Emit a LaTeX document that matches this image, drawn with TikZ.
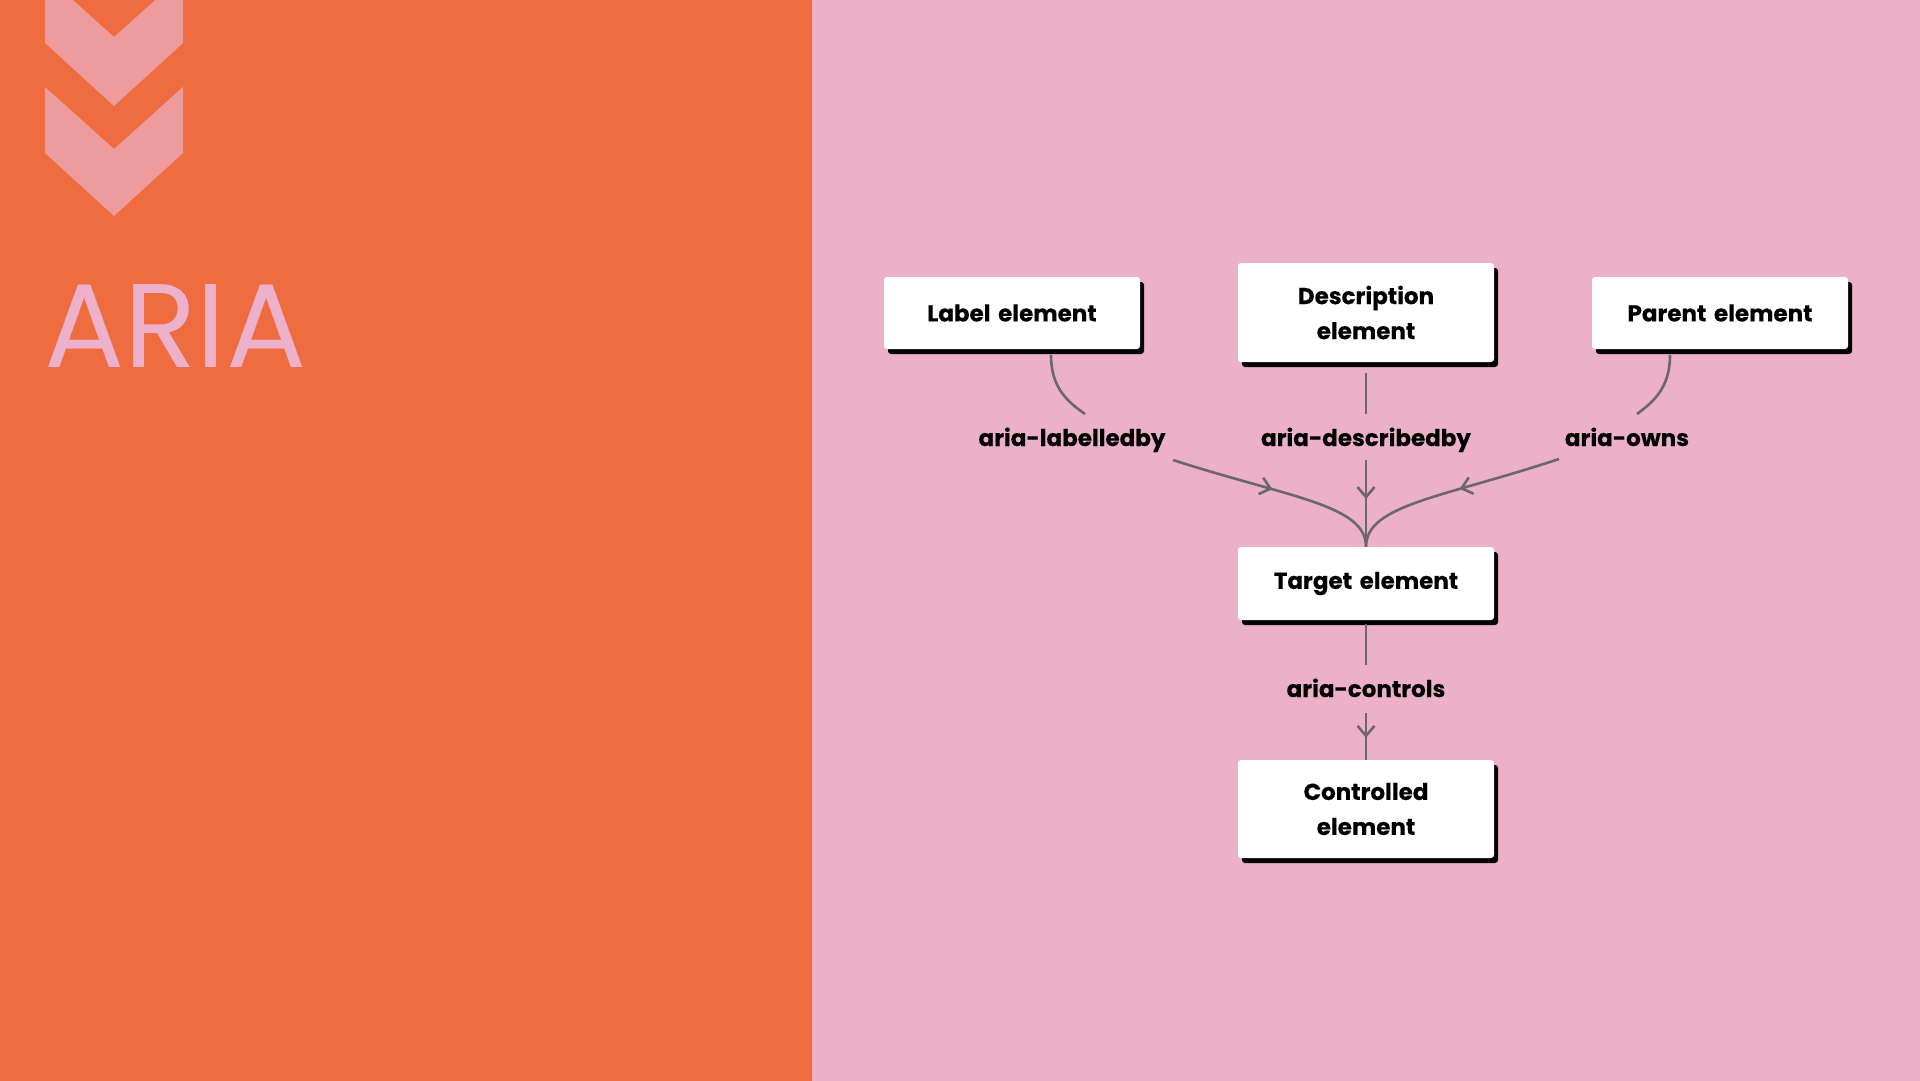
\documentclass[tikz,border=0pt]{standalone}
\usepackage{fontspec}
\setmainfont{Poppins}
\usetikzlibrary{arrows.meta,decorations.markings,calc,shadows}
\definecolor{orangebg}{HTML}{EE6C40}
\definecolor{pinkbg}{HTML}{ECB1C9}
\definecolor{chev}{HTML}{EE9B9E}
\definecolor{ariatxt}{HTML}{EDB1CB}
\definecolor{linegray}{HTML}{6B676B}
\newcommand{\boldtxt}{\bfseries\addfontfeature{FakeBold=0.3}}
\tikzset{
  box/.style={fill=white, rounded corners=3pt, minimum width=256pt, text width=236pt,
    align=center, inner sep=0pt, font=\fontsize{23}{35}\selectfont\boldtxt,
    drop shadow={shadow xshift=4pt, shadow yshift=-5pt, fill=black, opacity=1}},
  elabel/.style={font=\fontsize{23}{28}\selectfont\boldtxt, inner sep=0pt,
    text height=18pt, text depth=0pt},
  conn/.style={draw=linegray, line width=2.6pt},
  midarrow/.style={postaction={decorate}, decoration={markings,
    mark=at position #1 with {\arrow{Straight Barb[length=10pt,width=17pt]}}}},
}
\begin{document}
\begin{tikzpicture}[x=1pt,y=-1pt]
\useasboundingbox (0,0) rectangle (1920,1081);
\clip (0,0) rectangle (1920,1081);
\fill[orangebg] (0,0) rectangle (812,1081);
\fill[pinkbg] (812,0) rectangle (1920,1081);
% chevrons
\fill[chev] (45,-25) -- (45,43) -- (114,106) -- (183,43) -- (183,-25) -- (114,37) -- cycle;
\fill[chev] (45,87) -- (45,153) -- (114,216) -- (183,153) -- (183,87) -- (114,149) -- cycle;
% title
\node[anchor=base west, inner sep=0pt, text=ariatxt, font=\fontsize{119}{122}\selectfont] (title) at (44,367) {ARIA};
% boxes
\node[box, minimum height=72pt] (lab) at (1012,313) {Label element};
\node[box, minimum height=99pt] (desc) at (1366,312.5) {Description\\element};
\node[box, minimum height=72pt] (par) at (1720,313) {Parent element};
\node[box, minimum height=73pt] (tgt) at (1366,583.5) {Target element};
\node[box, minimum height=98pt] (ctl) at (1366,809) {Controlled\\element};
% edge labels
\node[elabel] (l1) at (1072,437) {aria-labelledby};
\node[elabel] (l2) at (1366,437) {aria-describedby};
\node[elabel] (l3) at (1627,437) {aria-owns};
\node[elabel] (l4) at (1366,688) {aria-controls};
% connectors
\draw[conn] ($(lab.south)+(39,6)$) .. controls ($(lab.south)+(39,39)$) and ($(l1.center)+(-4,-35)$) .. ($(l1.center)+(13,-23)$);
\draw[conn, midarrow=0.47] ($(l1.center)+(101,23)$) .. controls ($(tgt.north)+(-76,-49)$) and ($(tgt.north)+(0,-42)$) .. (tgt.north);
\draw[conn] ($(desc.south)+(0,11)$) -- ($(l2.center)+(0,-23)$);
\draw[conn, midarrow=0.45] ($(l2.center)+(0,23)$) -- (tgt.north);
\draw[conn] ($(par.south)+(-50,6)$) .. controls ($(par.south)+(-50,39)$) and ($(l3.center)+(26,-35)$) .. ($(l3.center)+(10,-23)$);
\draw[conn, midarrow=0.47] ($(l3.center)+(-68,22)$) .. controls ($(tgt.north)+(76,-49)$) and ($(tgt.north)+(0,-42)$) .. (tgt.north);
\draw[conn] ($(tgt.south)+(0,4)$) -- ($(l4.center)+(0,-23)$);
\draw[conn, midarrow=0.53] ($(l4.center)+(0,25)$) -- (ctl.north);
\end{tikzpicture}
\end{document}
